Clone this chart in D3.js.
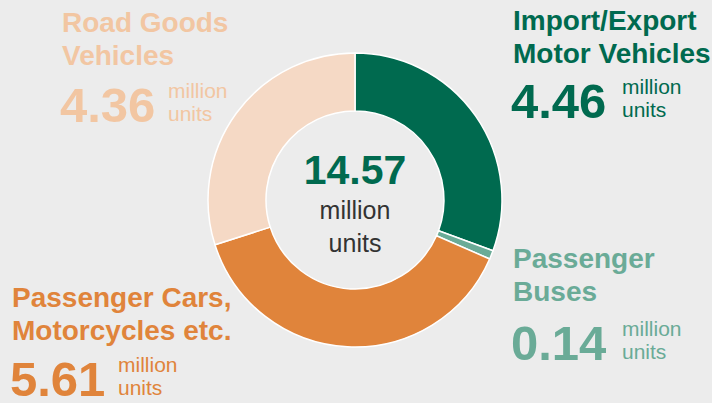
<!DOCTYPE html>
<html>
<head>
<meta charset="utf-8">
<script src="https://cdn.jsdelivr.net/npm/d3@7"></script>
<style>
  html, body { margin: 0; padding: 0; background: #ececec; }
  svg { display: block; font-family: "Liberation Sans", Arial, sans-serif; }
</style>
</head>
<body>
<svg id="chart" width="712" height="403"></svg>
<script>
// data
const categories = ["Import/Export Motor Vehicles", "Passenger Buses", "Passenger Cars, Motorcycles etc.", "Road Goods Vehicles"];
const values = [4.46, 0.14, 5.61, 4.36];
const sliceColors = ["#006a4f", "#6aab97", "#e0843b", "#f5d9c5"];
const textColors = ["#006a4f", "#6aab97", "#e0843b", "#f2c6a2"];
const labelLines = [["Import/Export", "Motor Vehicles"], ["Passenger", "Buses"], ["Passenger Cars,", "Motorcycles etc."], ["Road Goods", "Vehicles"]];
const totalText = "14.57";

const svg = d3.select('#chart');

// donut
const cx = 355, cy = 200;
const outerR = 147, innerR = 89;

const pie = d3.pie().sort(null).value(d => d);
const arc = d3.arc().innerRadius(innerR).outerRadius(outerR);

const g = svg.append('g').attr('transform', `translate(${cx},${cy})`);
g.selectAll('path')
  .data(pie(values))
  .join('path')
  .attr('d', arc)
  .attr('fill', (d, i) => sliceColors[i])
  .attr('stroke', '#ffffff')
  .attr('stroke-width', 1.5);

// centre text
g.append('text').attr('text-anchor', 'middle').attr('y', -16)
  .attr('font-size', 41).attr('font-weight', 'bold').attr('fill', '#006a4f')
  .text(totalText);
g.append('text').attr('text-anchor', 'middle').attr('y', 19)
  .attr('font-size', 25).attr('fill', '#333333').text('million');
g.append('text').attr('text-anchor', 'middle').attr('y', 52)
  .attr('font-size', 25).attr('fill', '#333333').text('units');

// label blocks: x, first line baseline, value baseline, unit x
const labelPos = [
  {x: 513, y1: 30, yv: 118, ux: 622},
  {x: 513, y1: 268, yv: 360, ux: 622},
  {x: 12, y1: 307, yv: 396, ux: 118},
  {x: 62, y1: 32, yv: 122, ux: 168}
];

const blocks = svg.selectAll('g.label')
  .data(categories)
  .join('g')
  .attr('class', 'label');

blocks.each(function (c, i) {
  const b = d3.select(this);
  const p = labelPos[i];
  const col = textColors[i];
  labelLines[i].forEach((line, j) => {
    b.append('text').attr('x', p.x).attr('y', p.y1 + j * 33)
      .attr('font-size', 28).attr('font-weight', 'bold').attr('fill', col)
      .text(line);
  });
  b.append('text').attr('x', p.x - 2).attr('y', p.yv)
    .attr('font-size', 49).attr('font-weight', 'bold').attr('fill', col)
    .text(values[i].toFixed(2));
  b.append('text').attr('x', p.ux).attr('y', p.yv - 24)
    .attr('font-size', 21).attr('fill', col).text('million');
  b.append('text').attr('x', p.ux).attr('y', p.yv - 1)
    .attr('font-size', 21).attr('fill', col).text('units');
});
</script>
</body>
</html>
